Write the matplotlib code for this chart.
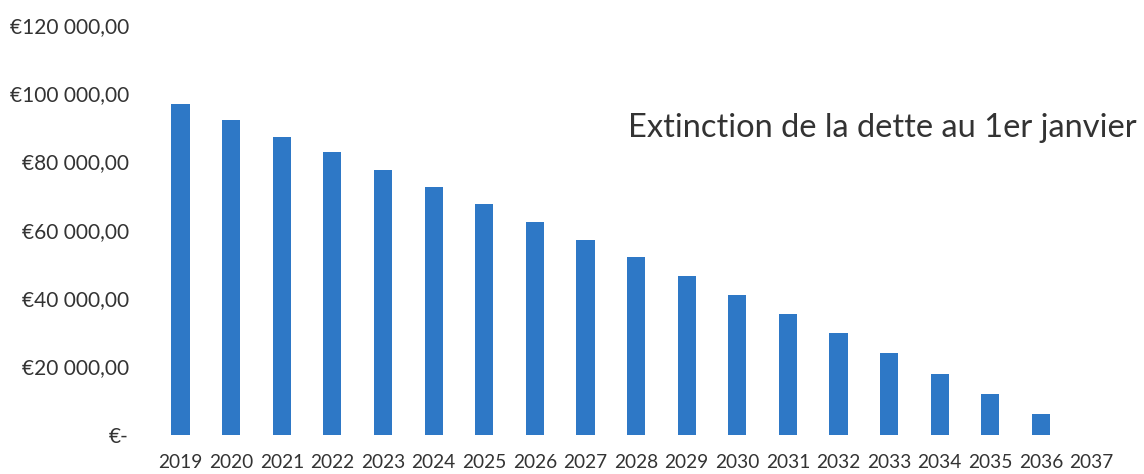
import matplotlib.pyplot as plt
from matplotlib.ticker import FuncFormatter

years = ["2019", "2020", "2021", "2022", "2023", "2024", "2025", "2026", "2027",
         "2028", "2029", "2030", "2031", "2032", "2033", "2034", "2035", "2036", "2037"]
remaining_debt = [96650, 92050, 87170, 82600, 77420, 72530, 67470, 62200, 57080,
                  51870, 46390, 40830, 35360, 29620, 23940, 17800, 11850, 5910, 0]
y_ticks = [0, 20000, 40000, 60000, 80000, 100000, 120000]

plt.rcParams["font.family"] = ["Lato", "DejaVu Sans"]


def euro_format(value, pos):
    if value == 0:
        return "€-"
    return "€" + f"{value:,.2f}".replace(",", " ").replace(".", ",")


fig = plt.figure(figsize=(11.44, 4.74), dpi=100)
ax = fig.add_axes([0.1357, 0.0833, 0.8406, 0.8646])

ax.bar(range(len(years)), remaining_debt, width=0.36, color="#2E78C6")

ax.set_xlim(-0.5, len(years) - 0.5)
ax.set_ylim(0, 120000)
ax.set_xticks(range(len(years)))
ax.set_xticklabels(years)
ax.set_yticks(y_ticks)
ax.yaxis.set_major_formatter(FuncFormatter(euro_format))

ax.tick_params(axis="both", length=0, colors="#333333")
ax.tick_params(axis="y", pad=19, labelsize=15)
ax.tick_params(axis="x", pad=14, labelsize=13.8)
for spine in ax.spines.values():
    spine.set_visible(False)

fig.text(1137 / 1144, 1 - 128 / 474, "Extinction de la dette au 1er janvier",
         ha="right", va="center", fontsize=23.5, color="#333333")

plt.savefig("out.png", dpi=100)
plt.close()
